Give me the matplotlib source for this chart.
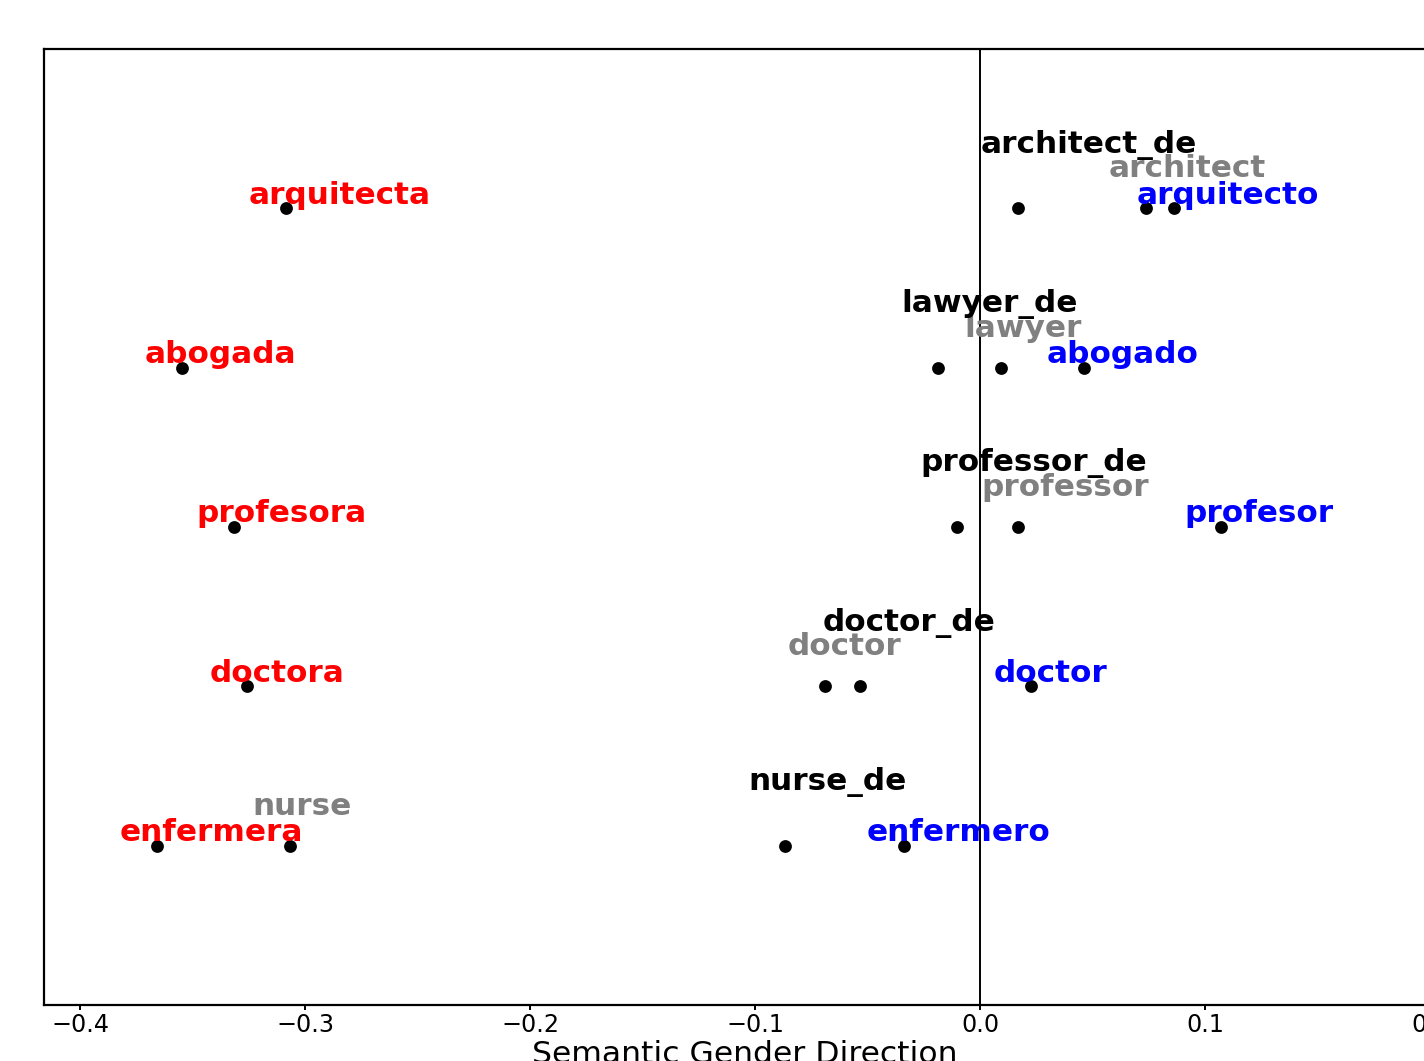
import matplotlib.pyplot as plt

# one row per profession (y position)
rows = [4, 3, 2, 1, 0]

# feminine spanish words (red)
fem_words = ['arquitecta', 'abogada', 'profesora', 'doctora', 'enfermera']
fem_x = [-0.3084, -0.3547, -0.3316, -0.3258, -0.3658]

# masculine spanish words (blue)
masc_words = ['arquitecto', 'abogado', 'profesor', 'doctor', 'enfermero']
masc_x = [0.0862, 0.0462, 0.1071, 0.0227, -0.0338]

# english words (gray)
en_words = ['architect', 'lawyer', 'professor', 'doctor', 'nurse']
en_x = [0.0738, 0.0093, 0.0169, -0.0689, -0.3067]

# english words in german context (black)
de_words = ['architect_de', 'lawyer_de', 'professor_de', 'doctor_de', 'nurse_de']
de_x = [0.0169, -0.0187, -0.0102, -0.0533, -0.0867]

fig = plt.figure(figsize=(7.12, 5.305), dpi=200)
ax = fig.add_axes([44 / 1424, 56 / 1061, 1402 / 1424, 956 / 1061])

dx = -0.0165
groups = [
    (fem_words, fem_x, 'red', 0.03),
    (masc_words, masc_x, 'blue', 0.03),
    (en_words, en_x, 'gray', 0.195),
    (de_words, de_x, 'black', 0.35),
]
for words, xs, color, dy in groups:
    ax.plot(xs, rows, 'o', color='black', markersize=3.6, zorder=2)
    for w, x, y in zip(words, xs, rows):
        ax.text(x + dx, y + dy, w, color=color, fontsize=11.2,
                fontweight='bold', va='baseline', ha='left')

ax.axvline(0, color='black', lw=0.7)
ax.set_xlim(-0.416, 0.207)
ax.set_ylim(-1, 5)
ax.set_yticks([])
ax.tick_params(axis='x', length=1.8, width=0.7, labelsize=8.6, pad=1.2)
for s in ax.spines.values():
    s.set_linewidth(0.8)
ax.set_xlabel('Semantic Gender Direction', fontsize=11.3, labelpad=1)

fig.savefig('out.png', dpi=200)
